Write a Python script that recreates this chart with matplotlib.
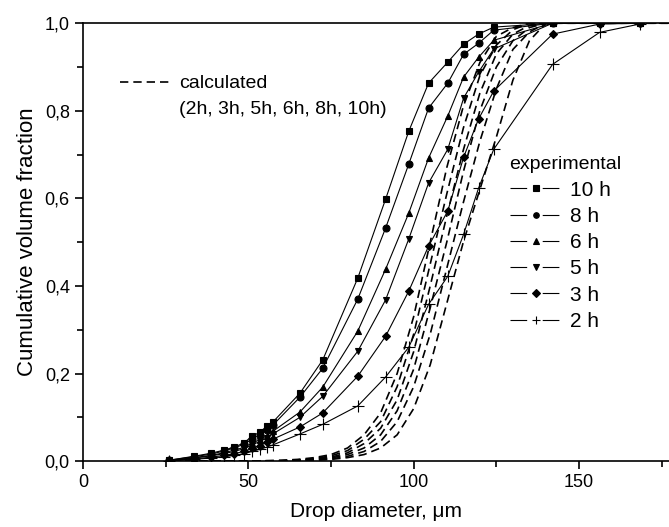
import numpy as np
import matplotlib
matplotlib.use("Agg")
import matplotlib.pyplot as plt
from matplotlib.lines import Line2D
from matplotlib.ticker import MultipleLocator, FuncFormatter

plt.rcParams['font.family'] = ['Liberation Sans', 'DejaVu Sans']

# experimental sieve diameters (um)
d_exp = [26.0, 33.5, 38.7, 42.6, 45.6, 48.6, 51.1, 53.5, 55.6, 57.4, 65.6, 72.5,
         83.1, 91.5, 98.5, 104.5, 110.3, 115.1, 119.6, 124.2, 142.0, 156.2, 168.3]

exp_10h = [0.002, 0.011, 0.018, 0.025, 0.032, 0.041, 0.057, 0.066, 0.080, 0.089, 0.155, 0.231,
           0.418, 0.598, 0.753, 0.863, 0.911, 0.952, 0.975, 0.991, 1.0, 1.0, 1.0]
exp_8h = [0.002, 0.010, 0.016, 0.023, 0.030, 0.038, 0.050, 0.060, 0.072, 0.082, 0.146, 0.212,
          0.370, 0.532, 0.678, 0.806, 0.863, 0.929, 0.954, 0.984, 1.0, 1.0, 1.0]
exp_6h = [0.001, 0.008, 0.013, 0.019, 0.025, 0.031, 0.041, 0.049, 0.058, 0.068, 0.112, 0.169,
          0.297, 0.438, 0.566, 0.692, 0.788, 0.877, 0.922, 0.961, 1.0, 1.0, 1.0]
exp_5h = [0.001, 0.007, 0.012, 0.017, 0.022, 0.028, 0.037, 0.045, 0.053, 0.062, 0.100, 0.148,
          0.251, 0.368, 0.507, 0.635, 0.712, 0.829, 0.888, 0.941, 1.0, 1.0, 1.0]
exp_3h = [0.001, 0.005, 0.009, 0.013, 0.017, 0.022, 0.029, 0.035, 0.043, 0.050, 0.078, 0.110,
          0.194, 0.285, 0.388, 0.491, 0.571, 0.694, 0.781, 0.845, 0.975, 0.998, 1.0]
exp_2h = [0.000, 0.004, 0.007, 0.010, 0.013, 0.017, 0.022, 0.027, 0.032, 0.037, 0.062, 0.084,
          0.126, 0.192, 0.260, 0.358, 0.422, 0.518, 0.623, 0.712, 0.906, 0.979, 0.998]

exp_labels = ["10 h", "8 h", "6 h", "5 h", "3 h", "2 h"]
exp_markers = ["s", "o", "^", "v", "D", "+"]

# calculated distributions
d_calc = [27, 50, 60, 65, 70, 75, 80, 85, 90, 95, 100, 105, 110, 115, 120, 125, 130, 135, 140, 177]
calc_10h = [0, 0, 0.002, 0.004, 0.008, 0.015, 0.03, 0.06, 0.11, 0.20, 0.33, 0.50, 0.67, 0.81, 0.91, 0.97, 0.99, 1, 1, 1]
calc_8h = [0, 0, 0.001, 0.003, 0.006, 0.012, 0.024, 0.05, 0.09, 0.17, 0.29, 0.45, 0.61, 0.76, 0.88, 0.95, 0.985, 1, 1, 1]
calc_6h = [0, 0, 0.001, 0.002, 0.005, 0.009, 0.019, 0.04, 0.075, 0.14, 0.25, 0.40, 0.56, 0.71, 0.84, 0.93, 0.975, 0.995, 1, 1]
calc_5h = [0, 0, 0, 0.002, 0.004, 0.007, 0.015, 0.03, 0.06, 0.115, 0.21, 0.35, 0.50, 0.66, 0.80, 0.90, 0.96, 0.99, 1, 1]
calc_3h = [0, 0, 0, 0.001, 0.003, 0.005, 0.011, 0.022, 0.045, 0.09, 0.17, 0.29, 0.44, 0.59, 0.73, 0.85, 0.94, 0.98, 1, 1]
calc_2h = [0, 0, 0, 0.001, 0.002, 0.004, 0.008, 0.015, 0.03, 0.06, 0.12, 0.22, 0.36, 0.50, 0.62, 0.74, 0.87, 0.96, 1, 1]

fig = plt.figure(figsize=(6.69, 5.27), dpi=100)
ax = fig.add_axes([0.124, 0.125, 0.876, 0.831])

for cy in [calc_10h, calc_8h, calc_6h, calc_5h, calc_3h, calc_2h]:
    ax.plot(d_calc, cy, color="black", lw=1.2, ls=(0, (5, 3)), zorder=2)

series = [exp_10h, exp_8h, exp_6h, exp_5h, exp_3h, exp_2h]
handles = []
for ys, m, lab in zip(series, exp_markers, exp_labels):
    ms = 8 if m == "+" else 5
    if m == "D":
        ms = 4.5
    ax.plot(d_exp, ys, color="black", lw=0.8, marker=m, ms=ms, mew=0.8, zorder=3)
    # legend sample: "— marker —"
    handles.append(Line2D([], [], color="black", lw=0.8, ls=(0, (15, 14)),
                          marker=m, ms=ms * 0.8, mew=0.8, label=lab))

ax.set_xlim(0, 177.2)
ax.set_ylim(0, 1.0)
ax.xaxis.set_major_locator(MultipleLocator(50))
ax.xaxis.set_minor_locator(MultipleLocator(25))
ax.yaxis.set_major_locator(MultipleLocator(0.2))
ax.yaxis.set_minor_locator(MultipleLocator(0.1))
ax.yaxis.set_major_formatter(FuncFormatter(lambda v, p: f"{v:.1f}".replace(".", ",")))
ax.tick_params(which="both", direction="out", top=False, right=False, width=1.2, labelsize=13)
ax.tick_params(which="major", length=6)
ax.tick_params(which="minor", length=4)
for s in ["left", "bottom", "top"]:
    ax.spines[s].set_linewidth(1.2)
ax.spines["right"].set_visible(False)

ax.set_xlabel("Drop diameter, \u03bcm", fontsize=15, labelpad=8)
ax.set_ylabel("Cumulative volume fraction", fontsize=16, labelpad=5)

leg1 = ax.legend(handles=handles, title="experimental", loc="upper left",
                 bbox_to_anchor=(0.728, 0.696), frameon=False, fontsize=15,
                 title_fontsize=14, handlelength=2.55, handletextpad=0.33,
                 labelspacing=0.35, borderpad=0, borderaxespad=0, numpoints=1)
leg1._legend_box.align = "left"
ax.add_artist(leg1)

calc_handles = [Line2D([], [], color="black", lw=1.2, ls=(0, (5, 3))),
                Line2D([], [], color="none")]
ax.legend(handles=calc_handles, labels=["calculated", "(2h, 3h, 5h, 6h, 8h, 10h)"],
          loc="upper left", bbox_to_anchor=(0.063, 0.882), frameon=False, fontsize=14,
          handlelength=2.6, handletextpad=0.46, labelspacing=0.4, borderpad=0,
          borderaxespad=0)

fig.savefig("out.png", dpi=100)
